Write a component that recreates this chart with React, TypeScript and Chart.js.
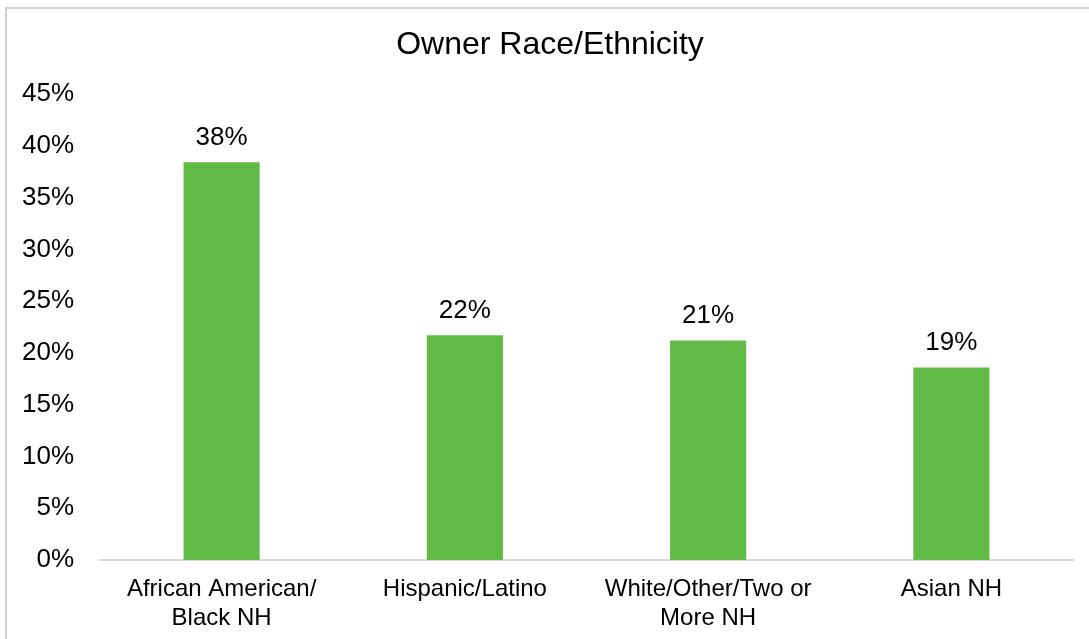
import React, { useEffect, useRef } from "react";
import { Chart, registerables } from "chart.js";

Chart.register(...registerables);

const categories: (string | string[])[] = [
  ["African American/", "Black NH"],
  "Hispanic/Latino",
  ["White/Other/Two or", "More NH"],
  "Asian NH",
];
const shares: number[] = [38.4, 21.7, 21.2, 18.6];
const yTicks: number[] = [0, 5, 10, 15, 20, 25, 30, 35, 40, 45];
const titleText = "Owner Race/Ethnicity";

const FONT = "'Liberation Sans', Arial, sans-serif";

const dataLabels = {
  id: "dataLabels",
  afterDatasetsDraw(chart: any) {
    const ctx = chart.ctx;
    const meta = chart.getDatasetMeta(0);
    ctx.save();
    ctx.font = `26px ${FONT}`;
    ctx.fillStyle = "#000";
    ctx.textAlign = "center";
    ctx.textBaseline = "alphabetic";
    meta.data.forEach((bar: any, i: number) => {
      const v = chart.data.datasets[0].data[i] as number;
      ctx.fillText(`${Math.round(v)}%`, bar.x, bar.y - 17);
    });
    ctx.restore();
  },
};

const frameTitle = {
  id: "frameTitle",
  afterDraw(chart: any) {
    const ctx = chart.ctx;
    ctx.save();
    ctx.font = `32px ${FONT}`;
    ctx.fillStyle = "#000";
    ctx.textAlign = "center";
    ctx.textBaseline = "middle";
    ctx.fillText(titleText, 550, 45);
    ctx.restore();
  },
};

export default function App() {
  const ref = useRef<HTMLCanvasElement>(null);
  useEffect(() => {
    if (!ref.current) return;
    const chart = new Chart(ref.current, {
      type: "bar",
      data: {
        labels: categories,
        datasets: [
          {
            data: shares,
            backgroundColor: "#62BB46",
            borderWidth: 0,
            barPercentage: 0.313,
            categoryPercentage: 1,
          },
        ],
      },
      options: {
        animation: false,
        responsive: false,
        maintainAspectRatio: false,
        layout: { padding: { left: 0, right: 16, top: 94, bottom: 0 } },
        plugins: {
          legend: { display: false },
          tooltip: { enabled: false },
          title: { display: false },
        },
        scales: {
          x: {
            grid: { display: false, drawTicks: false },
            border: { display: true, color: "#d9d9d9", width: 2 },
            ticks: {
              color: "#000",
              font: { family: FONT, size: 24 },
              padding: 15,
              maxRotation: 0,
              autoSkip: false,
            },
            afterFit: (s: any) => {
              s.height = 79;
            },
          },
          y: {
            min: 0,
            max: 45,
            grid: { display: false, drawTicks: false },
            border: { display: false },
            afterBuildTicks: (s: any) => {
              s.ticks = yTicks.map((v) => ({ value: v }));
            },
            ticks: {
              color: "#000",
              font: { family: FONT, size: 26 },
              padding: 26,
              callback: (v: any) => `${v}%`,
            },
            afterFit: (s: any) => {
              s.width = 100;
            },
          },
        },
      },
      plugins: [dataLabels, frameTitle],
    });
    return () => chart.destroy();
  }, []);

  return (
    <div
      style={{
        position: "fixed",
        left: 0,
        top: 0,
        width: 1089,
        height: 639,
        background: "#fff",
        overflow: "hidden",
      }}
    >
      <div
        style={{
          position: "absolute",
          left: 5,
          top: 7,
          width: 1200,
          height: 800,
          border: "2px solid #cfcfcf",
        }}
      />
      <canvas
        ref={ref}
        width={1089}
        height={639}
        style={{ position: "absolute", left: 0, top: 0 }}
      />
    </div>
  );
}
